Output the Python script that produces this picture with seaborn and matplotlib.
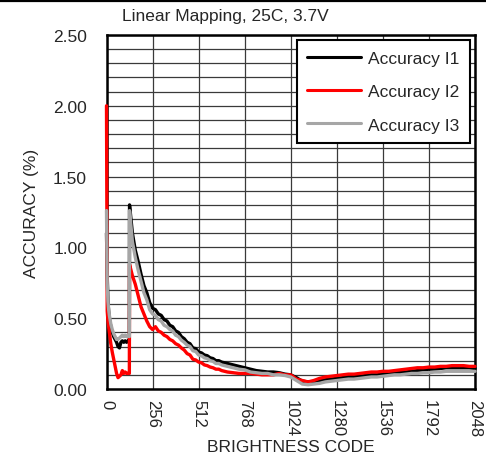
import numpy as np
import pandas as pd
import matplotlib
matplotlib.use("Agg")
import matplotlib.pyplot as plt
from matplotlib.lines import Line2D
from matplotlib.ticker import MultipleLocator
import seaborn as sns

# ---------------- data ----------------
codes_early = [0, 4, 8, 12, 16, 24, 32, 40, 48, 56, 64, 72, 80, 88, 96, 104, 112, 120, 127]
codes_mid = list(range(128, 641, 16))
codes_late = list(range(672, 2049, 32))
codes = codes_early + codes_mid + codes_late

acc_i1 = ([1.10, 0.80, 0.62, 0.55, 0.50, 0.44, 0.40, 0.37, 0.35, 0.33, 0.30, 0.29, 0.33, 0.34, 0.33, 0.34, 0.33, 0.34, 0.34]
          + [1.30, 1.10, 0.98, 0.90, 0.81, 0.73, 0.68, 0.61, 0.57, 0.56, 0.53, 0.52, 0.49, 0.48, 0.45, 0.44, 0.41,
             0.40, 0.37, 0.355, 0.33, 0.32, 0.29, 0.285, 0.26, 0.255, 0.24, 0.235, 0.22, 0.215, 0.20, 0.20, 0.19]
          + [0.18, 0.17, 0.16, 0.15, 0.14, 0.13, 0.125, 0.12, 0.12, 0.115, 0.105, 0.10, 0.08, 0.055, 0.05, 0.05,
             0.06, 0.065, 0.07, 0.075, 0.08, 0.085, 0.09, 0.09, 0.095, 0.10, 0.10, 0.105, 0.11, 0.115, 0.115, 0.12,
             0.125, 0.13, 0.135, 0.14, 0.14, 0.145, 0.15, 0.15, 0.15, 0.15, 0.15, 0.145])

acc_i2 = ([2.00, 0.55, 0.48, 0.44, 0.40, 0.32, 0.26, 0.21, 0.16, 0.11, 0.08, 0.09, 0.10, 0.13, 0.11, 0.12, 0.11, 0.11, 0.11]
          + [0.88, 0.80, 0.74, 0.66, 0.58, 0.53, 0.48, 0.44, 0.42, 0.44, 0.41, 0.40, 0.38, 0.37, 0.35, 0.34, 0.32,
             0.31, 0.29, 0.275, 0.25, 0.24, 0.21, 0.205, 0.19, 0.185, 0.17, 0.165, 0.155, 0.15, 0.14, 0.14, 0.13]
          + [0.12, 0.115, 0.11, 0.11, 0.11, 0.105, 0.10, 0.10, 0.10, 0.11, 0.10, 0.10, 0.07, 0.06, 0.05, 0.06,
             0.075, 0.085, 0.09, 0.095, 0.10, 0.105, 0.105, 0.11, 0.115, 0.12, 0.12, 0.125, 0.125, 0.13, 0.135, 0.14,
             0.145, 0.15, 0.15, 0.155, 0.155, 0.16, 0.16, 0.165, 0.165, 0.165, 0.16, 0.16])

acc_i3 = ([1.26, 0.75, 0.62, 0.56, 0.52, 0.46, 0.42, 0.39, 0.37, 0.35, 0.35, 0.36, 0.37, 0.38, 0.37, 0.38, 0.37, 0.38, 0.37]
          + [1.26, 1.04, 0.93, 0.84, 0.76, 0.68, 0.63, 0.56, 0.53, 0.52, 0.49, 0.48, 0.45, 0.44, 0.42, 0.41, 0.38,
             0.37, 0.345, 0.33, 0.31, 0.30, 0.27, 0.265, 0.24, 0.235, 0.22, 0.215, 0.20, 0.195, 0.18, 0.18, 0.17]
          + [0.16, 0.15, 0.14, 0.135, 0.12, 0.115, 0.11, 0.11, 0.10, 0.10, 0.095, 0.085, 0.06, 0.035, 0.03, 0.035,
             0.04, 0.05, 0.055, 0.06, 0.065, 0.07, 0.07, 0.075, 0.08, 0.085, 0.085, 0.09, 0.095, 0.10, 0.10, 0.105,
             0.11, 0.11, 0.115, 0.115, 0.12, 0.12, 0.125, 0.125, 0.125, 0.125, 0.125, 0.125])

series_names = ["Accuracy I1", "Accuracy I2", "Accuracy I3"]
series_colors = ["#000000", "#ff0000", "#a6a6a6"]
x_ticks = [0, 256, 512, 768, 1024, 1280, 1536, 1792, 2048]
y_ticks = [0.0, 0.5, 1.0, 1.5, 2.0, 2.5]

# ---------------- plot ----------------
sns.set_theme(style="white")
plt.rcParams["font.family"] = ["Liberation Sans", "DejaVu Sans"]

df = pd.DataFrame({"code": codes, series_names[0]: acc_i1,
                   series_names[1]: acc_i2, series_names[2]: acc_i3})
long = df.melt(id_vars="code", var_name="series", value_name="acc")

fig = plt.figure(figsize=(4.86, 4.64), dpi=100)
ax = fig.add_axes([106.5 / 486, 74 / 464, (475 - 106.5) / 486, (390 - 36) / 464])

sns.lineplot(data=long, x="code", y="acc", hue="series", hue_order=series_names,
             palette=series_colors, estimator=None, sort=False, linewidth=2.4, ax=ax)
for i, ln in enumerate(ax.get_lines()):
    ln.set_zorder(3 + 0.1 * i)
    ln.set_clip_on(False)

ax.set_xlim(0, 2048)
ax.set_ylim(0, 2.5)
ax.set_xticks(x_ticks)
ax.set_xticklabels([str(t) for t in x_ticks], rotation=270, fontsize=12)
ax.set_yticks(y_ticks)
ax.set_yticklabels([f"{t:.2f}" for t in y_ticks], fontsize=12.5)
ax.yaxis.set_minor_locator(MultipleLocator(0.1))
ax.tick_params(axis="both", which="both", length=0)
ax.tick_params(axis="y", pad=14)
ax.tick_params(axis="x", pad=7)
ax.grid(True, which="both", color="#3a3a3a", linewidth=0.9)
ax.set_axisbelow(True)
for s in ax.spines.values():
    s.set_color("black")
    s.set_linewidth(1.8)

ax.set_xlabel("BRIGHTNESS CODE", fontsize=12.5, labelpad=2)
ax.set_ylabel("ACCURACY (%)", fontsize=12.5, labelpad=10)

leg = ax.legend(loc="upper right", fontsize=12.5, frameon=True, fancybox=False,
                framealpha=1, edgecolor="black", handlelength=3.1, labelspacing=1.05,
                borderaxespad=0.3, handletextpad=0.4, borderpad=0.6)
leg.get_frame().set_linewidth(1.5)
leg.set_zorder(5)
for h in leg.get_lines():
    h.set_linewidth(2.2)

fig.text(122 / 486, 1 - 17 / 464, "Linear Mapping, 25C, 3.7V", fontsize=12.5,
         ha="left", va="center")
fig.add_artist(Line2D([0, 1], [1 - 2 / 464, 1 - 2 / 464], color="black",
                      linewidth=1.6, transform=fig.transFigure))

fig.savefig("out.png", dpi=100)
